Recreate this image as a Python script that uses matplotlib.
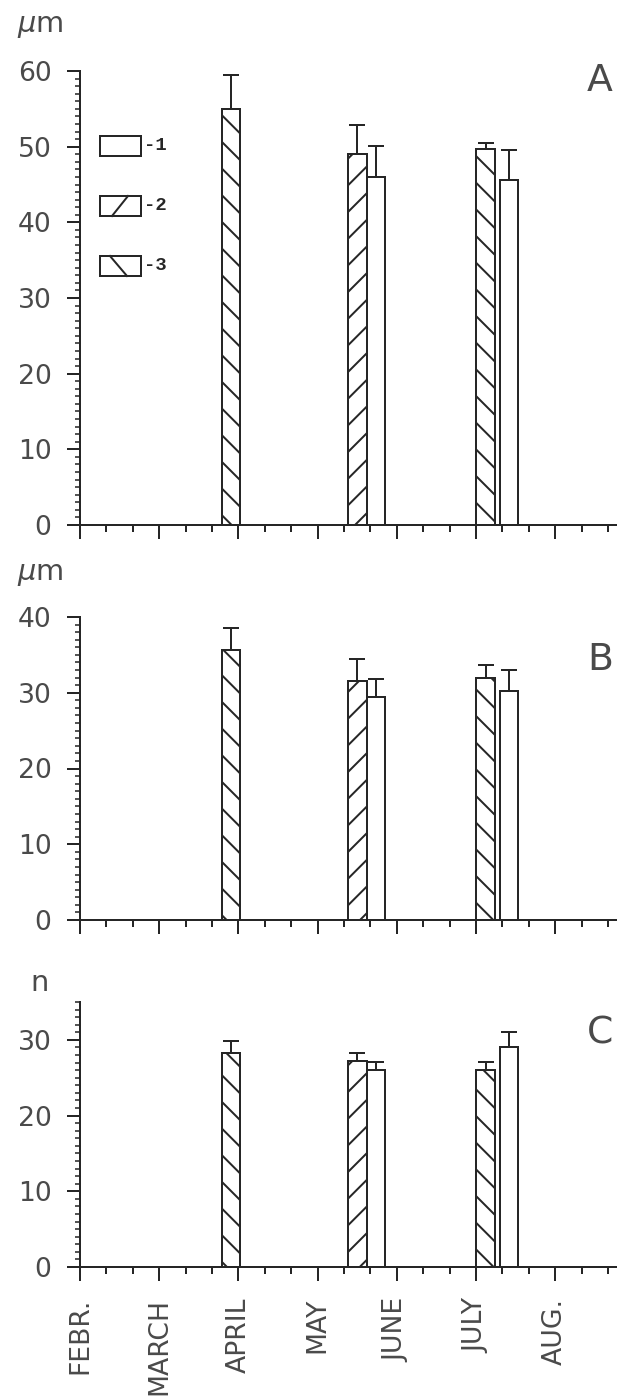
"""Bar chart of sample size and measurements by sampling date, three panels."""

import matplotlib
matplotlib.use("Agg")
import matplotlib.pyplot as plt
from matplotlib.patches import Rectangle
from matplotlib.lines import Line2D
from matplotlib.ticker import MultipleLocator

months = ["FEBR.", "MARCH", "APRIL", "MAY", "JUNE", "JULY", "AUG."]

# sampling dates, in months after 1 February, and the group of each sample
sample_dates = [1.905, 3.50, 3.735, 5.12, 5.415]
sample_group = [3, 2, 1, 3, 1]

panel_a_mean = [55.0, 49.0, 46.0, 49.7, 45.6]
panel_a_err = [4.5, 3.9, 4.1, 0.8, 4.0]
panel_b_mean = [35.7, 31.5, 29.4, 31.9, 30.2]
panel_b_err = [2.8, 3.0, 2.4, 1.8, 2.8]
panel_c_mean = [28.3, 27.2, 26.0, 26.0, 29.1]
panel_c_err = [1.5, 1.0, 1.1, 1.1, 2.0]

legend_labels = ["-1", "-2", "-3"]

W, H, DPI = 617, 1398, 160
INK = "#262626"
TXT = "#4a4a4a"
HATCH = {1: "", 2: "//", 3: "\\\\"}

plt.rcParams["font.family"] = ["DejaVu Sans"]
plt.rcParams["mathtext.fontset"] = "dejavusans"
plt.rcParams["hatch.linewidth"] = 0.9
plt.rcParams["hatch.color"] = INK

fig = plt.figure(figsize=(W / DPI, H / DPI), dpi=DPI)


def px_axes(left, top, bottom, right=W):
    return fig.add_axes([left / W, 1 - bottom / H, (right - left) / W, (bottom - top) / H])


def draw_panel(ax, means, errs, ymax, letter, letter_y, unit, unit_y, show_months):
    for x, m, g in zip(sample_dates, means, sample_group):
        ax.bar(x, m, width=0.235, facecolor="white", edgecolor=INK,
               linewidth=0.9, hatch=HATCH[g], zorder=2)
    ax.errorbar(sample_dates, means, yerr=[[0] * len(errs), errs], fmt="none",
                ecolor=INK, elinewidth=0.9, capsize=3.6, capthick=0.9, zorder=3)

    ax.set_xlim(0, 6.78)
    ax.set_ylim(0, ymax)
    for side in ("top", "right"):
        ax.spines[side].set_visible(False)
    for side in ("left", "bottom"):
        ax.spines[side].set_linewidth(0.9)
        ax.spines[side].set_color(INK)

    ax.xaxis.set_major_locator(MultipleLocator(1))
    ax.xaxis.set_minor_locator(MultipleLocator(1 / 3))
    ax.yaxis.set_major_locator(MultipleLocator(10))
    ax.yaxis.set_minor_locator(MultipleLocator(1))
    ax.tick_params(axis="y", which="major", length=5.85, width=0.9, color=INK,
                   labelsize=12, labelcolor=TXT, pad=7)
    ax.tick_params(axis="y", which="minor", length=2.3, width=0.7, color=INK)
    ax.tick_params(axis="x", which="major", length=6.3, width=0.9, color=INK)
    ax.tick_params(axis="x", which="minor", length=3.1, width=0.9, color=INK)

    if show_months:
        ax.set_xticks(range(len(months)))
        ax.set_xticklabels(months, rotation=90, va="top", ha="center",
                           fontsize=12, color=TXT)
        ax.tick_params(axis="x", which="major", pad=7.5)
    else:
        ax.set_xticklabels([])

    fig.text(600 / W, 1 - letter_y / H, letter, ha="center", va="center",
             fontsize=17, color=TXT)
    fig.text(40 / W, 1 - unit_y / H, unit, ha="center", va="center",
             fontsize=13, color=TXT)


ax_a = px_axes(80, 71, 525)
ax_b = px_axes(80, 617, 920)
ax_c = px_axes(80, 1002, 1267)

draw_panel(ax_a, panel_a_mean, panel_a_err, 60, "A", 81, r"$\mu$m", 26, False)
draw_panel(ax_b, panel_b_mean, panel_b_err, 40, "B", 660, r"$\mu$m", 574, False)
draw_panel(ax_c, panel_c_mean, panel_c_err, 35, "C", 1033, "n", 983, True)

# legend in panel A: small box with a single hatch stroke
ax_w, ax_top, ax_bot = W - 80, 71, 525
for i, lab in enumerate(legend_labels):
    top = 136 + 60 * i
    x0, x1 = (100 - 80) / ax_w, (141 - 80) / ax_w
    y0, y1 = (ax_bot - (top + 20)) / (ax_bot - ax_top), (ax_bot - top) / (ax_bot - ax_top)
    ax_a.add_patch(Rectangle((x0, y0), x1 - x0, y1 - y0, transform=ax_a.transAxes,
                             facecolor="white", edgecolor=INK, linewidth=0.9,
                             clip_on=False, zorder=4))
    if i == 1:
        xs = [(112 - 80) / ax_w, (128 - 80) / ax_w]
        ax_a.add_line(Line2D(xs, [y0, y1], transform=ax_a.transAxes, color=INK,
                             linewidth=0.9, zorder=5))
    elif i == 2:
        xs = [(110 - 80) / ax_w, (127 - 80) / ax_w]
        ax_a.add_line(Line2D(xs, [y1, y0], transform=ax_a.transAxes, color=INK,
                             linewidth=0.9, zorder=5))
    ax_a.text((144 - 80) / ax_w, (y0 + y1) / 2, lab, transform=ax_a.transAxes,
              ha="left", va="center", fontsize=8.5, fontweight="bold",
              family="Liberation Mono", color=INK)

fig.savefig("out.png", dpi=DPI, facecolor="white")
